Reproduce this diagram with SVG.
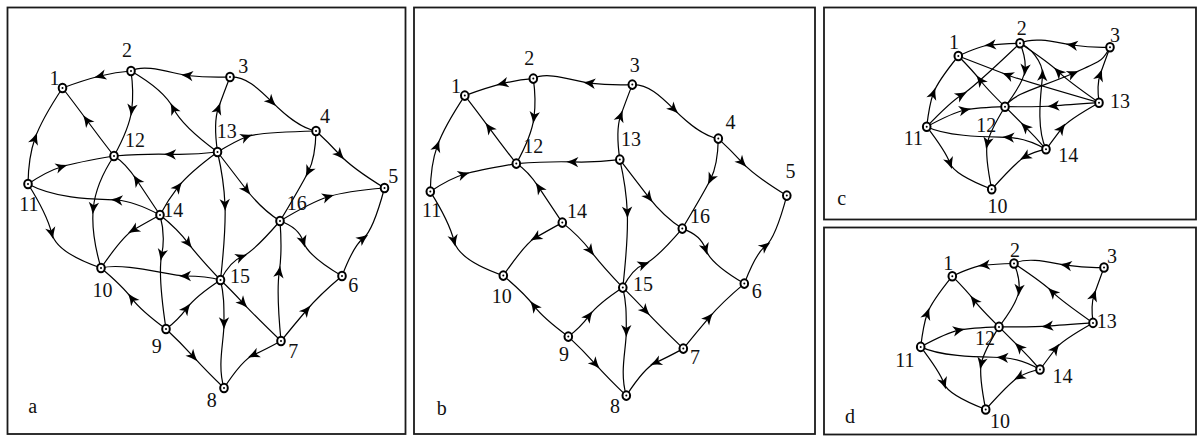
<svg xmlns="http://www.w3.org/2000/svg" width="1198" height="437" viewBox="0 0 1198 437">
<style>
.frame{fill:none;stroke:#1a1a1a;stroke-width:1.8}
.e{fill:none;stroke:#000;stroke-width:1.2;marker-mid:url(#ah)}
.lbl{font-family:"Liberation Serif","Times New Roman",serif;font-size:20px;fill:#111;text-anchor:middle}
</style>
<defs>
<marker id="ah" viewBox="-8 -8 16 16" markerWidth="16" markerHeight="16" refX="0" refY="0" orient="auto" markerUnits="userSpaceOnUse"><path d="M6,0 Q0,-1.8 -6,-5.2 L-3,0 L-6,5.2 Q0,1.8 6,0 Z" fill="#000"/></marker>
<g id="nd"><ellipse rx="3.8" ry="4.3" fill="#fff" stroke="#000" stroke-width="2"/><circle r="1" fill="#000"/></g>
</defs>
<rect width="1198" height="437" fill="#fff"/>
<g id="frames">
<rect class="frame" x="7.5" y="7.5" width="398" height="426.5"/>
<rect class="frame" x="414" y="7.5" width="401" height="426.5"/>
<rect class="frame" x="824" y="7.5" width="372" height="212"/>
<rect class="frame" x="824" y="227.5" width="372" height="207"/>
</g>
<g id="a-edges">
<path class="e" d="M131,71 Q116,72 100,76 T62.5,88"/>
<path class="e" d="M230,77 C215,77.5 200,77 187,75.5 S145,63 131,71"/>
<path class="e" d="M131,71 Q134,92 131.7,110 T114,156"/>
<path class="e" d="M217.5,152 Q182.3,126.3 173.3,108.3 T131,71"/>
<path class="e" d="M114,156 Q100,138 86.7,120 T62.5,88"/>
<path class="e" d="M28,184 Q28.4,157 35,138.3 T62.5,88"/>
<path class="e" d="M217.5,152 Q194,155 170,154.3 T114,156"/>
<path class="e" d="M28,184 Q47.3,171 61.7,166.7 T114,156"/>
<path class="e" d="M160,215 Q148,197 136.7,180 T114,156"/>
<path class="e" d="M160,215 C145,207 130,201 116.7,200 S60,201 28,184"/>
<path class="e" d="M114,156 Q95.8,183.3 93.3,208.3 T101,268"/>
<path class="e" d="M160,215 Q168,200 178.3,186.7 T217.5,152"/>
<path class="e" d="M217.5,152 Q224,180 225,205 T220.5,280"/>
<path class="e" d="M217.5,152 Q213.3,122.4 218.3,108.3 T230,77"/>
<path class="e" d="M230,77 C245,76 258,88 271.7,101.7 S300,128 316,131"/>
<path class="e" d="M217.5,152 Q235.5,141 246.7,136.7 T316,131"/>
<path class="e" d="M316,131 Q328,142 340,155 T384.5,188"/>
<path class="e" d="M316,131 Q315.5,157.5 308.3,171.7 T280,221"/>
<path class="e" d="M217.5,152 Q232,171 246.7,190 T280,221"/>
<path class="e" d="M280,221 Q311.2,202.1 328.3,196.7 T384.5,188"/>
<path class="e" d="M28,184 Q46.9,214 51.7,233.3 T101,268"/>
<path class="e" d="M160,215 Q143.6,224 133.3,230 T101,268"/>
<path class="e" d="M160,215 Q165.6,235.4 161.7,255 T166,329"/>
<path class="e" d="M160,215 Q177.5,229 188.3,243.3 T220.5,280"/>
<path class="e" d="M220.5,280 C210,277 200,276 185,276 S125,262 101,268"/>
<path class="e" d="M166,329 Q140.7,310.3 131.7,298.3 T101,268"/>
<path class="e" d="M166,329 Q177.7,320.3 186.7,308.3 T220.5,280"/>
<path class="e" d="M220.5,280 C224,295 224,305 224,323.3 S217,365 224,388"/>
<path class="e" d="M166,329 Q180,342 193.3,356.7 T224,388"/>
<path class="e" d="M220.5,280 Q230.5,261 241.7,256.7 T280,221"/>
<path class="e" d="M280,221 Q298.8,227.5 303.3,241.7 T342,276"/>
<path class="e" d="M342,276 Q353.7,245.5 363.3,238.3 T384.5,188"/>
<path class="e" d="M281,341 Q276.3,291.7 279.3,271.7 T280,221"/>
<path class="e" d="M220.5,280 Q231,290 243.3,303.3 T281,341"/>
<path class="e" d="M281,341 Q294,325 306.7,310 T342,276"/>
<path class="e" d="M281,341 Q264.1,350.2 253.3,355 T224,388"/>
</g>
<g id="b-edges" transform="translate(402.3,7.6)">
<path class="e" d="M131,71 Q116,72 100,76 T62.5,88"/>
<path class="e" d="M230,77 C215,77.5 200,77 187,75.5 S145,63 131,71"/>
<path class="e" d="M131,71 Q134,92 131.7,110 T114,156"/>
<path class="e" d="M114,156 Q100,138 86.7,120 T62.5,88"/>
<path class="e" d="M28,184 Q28.4,157 35,138.3 T62.5,88"/>
<path class="e" d="M217.5,152 Q194,155 170,154.3 T114,156"/>
<path class="e" d="M28,184 Q47.3,171 61.7,166.7 T114,156"/>
<path class="e" d="M160,215 Q148,197 136.7,180 T114,156"/>
<path class="e" d="M217.5,152 Q224,180 225,205 T220.5,280"/>
<path class="e" d="M217.5,152 Q213.3,122.4 218.3,108.3 T230,77"/>
<path class="e" d="M230,77 C245,76 258,88 271.7,101.7 S300,128 316,131"/>
<path class="e" d="M316,131 Q328,142 340,155 T384.5,188"/>
<path class="e" d="M316,131 Q315.5,157.5 308.3,171.7 T280,221"/>
<path class="e" d="M217.5,152 Q232,171 246.7,190 T280,221"/>
<path class="e" d="M28,184 Q46.9,214 51.7,233.3 T101,268"/>
<path class="e" d="M160,215 Q143.6,224 133.3,230 T101,268"/>
<path class="e" d="M160,215 Q177.5,229 188.3,243.3 T220.5,280"/>
<path class="e" d="M166,329 Q140.7,310.3 131.7,298.3 T101,268"/>
<path class="e" d="M166,329 Q177.7,320.3 186.7,308.3 T220.5,280"/>
<path class="e" d="M220.5,280 C224,295 224,305 224,323.3 S217,365 224,388"/>
<path class="e" d="M166,329 Q180,342 193.3,356.7 T224,388"/>
<path class="e" d="M220.5,280 Q230.5,261 241.7,256.7 T280,221"/>
<path class="e" d="M280,221 Q298.8,227.5 303.3,241.7 T342,276"/>
<path class="e" d="M342,276 Q353.7,245.5 363.3,238.3 T384.5,188"/>
<path class="e" d="M220.5,280 Q231,290 243.3,303.3 T281,341"/>
<path class="e" d="M281,341 Q294,325 306.7,310 T342,276"/>
<path class="e" d="M281,341 Q264.1,350.2 253.3,355 T224,388"/>
</g>
<g id="c-edges">
<path class="e" d="M1020,43.3 Q1000,44 990,45 T958.3,56"/>
<path class="e" d="M1110,47.3 C1095,48 1085,47 1071.7,45 S1035,36 1020,43.3"/>
<path class="e" d="M1099,102.7 Q1096.7,84.4 1100,75 T1110,47.3"/>
<path class="e" d="M926.7,126.7 Q929.3,104.6 933.3,93.3 T958.3,56"/>
<path class="e" d="M1005,106.7 Q986,88 980,80 T958.3,56"/>
<path class="e" d="M926.7,126.7 Q951.4,101 961.7,95 T1020,43.3"/>
<path class="e" d="M926.7,126.7 Q953.2,112.4 965,110 T1005,106.7"/>
<path class="e" d="M1099,102.7 Q1018.7,79.4 1007.5,75 T958.3,56"/>
<path class="e" d="M1020,43.3 Q1026.2,58 1025,70 T1005,106.7"/>
<path class="e" d="M1046,149.3 C1035,125 1042,88 1042.5,75 S1030,47 1020,43.3"/>
<path class="e" d="M1099,102.7 Q1066.7,80.1 1058.3,71.7 T1020,43.3"/>
<path class="e" d="M1005,106.7 C1015,92 1040,88 1073.3,73.3 S1102,60 1110,47.3"/>
<path class="e" d="M1099,102.7 Q1065,105 1053.3,106 T1005,106.7"/>
<path class="e" d="M1005,106.7 Q989.7,131.5 987.3,143.3 T991.7,189.3"/>
<path class="e" d="M1046,149.3 C1035,143 1020,138 1008.3,137.3 S950,138 926.7,126.7"/>
<path class="e" d="M1046,149.3 Q1036,137.7 1025,126.7 T1005,106.7"/>
<path class="e" d="M1046,149.3 Q1055.7,136.3 1061.7,128.3 T1099,102.7"/>
<path class="e" d="M926.7,126.7 Q946,152 950,163.3 T991.7,189.3"/>
<path class="e" d="M1046,149.3 Q1033.6,151.7 1025,156.7 T991.7,189.3"/>
</g>
<g id="d-edges" transform="translate(-6,220.2)">
<path class="e" d="M1020,43.3 Q1000,44 990,45 T958.3,56"/>
<path class="e" d="M1110,47.3 C1095,48 1085,47 1071.7,45 S1035,36 1020,43.3"/>
<path class="e" d="M1099,102.7 Q1096.7,84.4 1100,75 T1110,47.3"/>
<path class="e" d="M926.7,126.7 Q929.3,104.6 933.3,93.3 T958.3,56"/>
<path class="e" d="M1005,106.7 Q986,88 980,80 T958.3,56"/>
<path class="e" d="M926.7,126.7 Q953.2,112.4 965,110 T1005,106.7"/>
<path class="e" d="M1020,43.3 Q1026.2,58 1025,70 T1005,106.7"/>
<path class="e" d="M1099,102.7 Q1066.7,80.1 1058.3,71.7 T1020,43.3"/>
<path class="e" d="M1099,102.7 Q1065,105 1053.3,106 T1005,106.7"/>
<path class="e" d="M1005,106.7 Q989.7,131.5 987.3,143.3 T991.7,189.3"/>
<path class="e" d="M1046,149.3 C1035,143 1020,138 1008.3,137.3 S950,138 926.7,126.7"/>
<path class="e" d="M1046,149.3 Q1036,137.7 1025,126.7 T1005,106.7"/>
<path class="e" d="M1046,149.3 Q1055.7,136.3 1061.7,128.3 T1099,102.7"/>
<path class="e" d="M926.7,126.7 Q946,152 950,163.3 T991.7,189.3"/>
<path class="e" d="M1046,149.3 Q1033.6,151.7 1025,156.7 T991.7,189.3"/>
</g>
<g id="a-nodes">
<g id="a-n1"><use href="#nd" x="62.5" y="88"/><text class="lbl" x="54.5" y="85">1</text></g>
<g id="a-n2"><use href="#nd" x="131" y="71"/><text class="lbl" x="127" y="57">2</text></g>
<g id="a-n3"><use href="#nd" x="230" y="77"/><text class="lbl" x="243.3" y="73">3</text></g>
<g id="a-n4"><use href="#nd" x="316" y="131"/><text class="lbl" x="325" y="123">4</text></g>
<g id="a-n5"><use href="#nd" x="384.5" y="188"/><text class="lbl" x="393.3" y="183">5</text></g>
<g id="a-n6"><use href="#nd" x="342" y="276"/><text class="lbl" x="353.3" y="291.5">6</text></g>
<g id="a-n7"><use href="#nd" x="281" y="341"/><text class="lbl" x="293.3" y="358">7</text></g>
<g id="a-n8"><use href="#nd" x="224" y="388"/><text class="lbl" x="211.7" y="406.5">8</text></g>
<g id="a-n9"><use href="#nd" x="166" y="329"/><text class="lbl" x="156.7" y="353">9</text></g>
<g id="a-n10"><use href="#nd" x="101" y="268"/><text class="lbl" x="102.5" y="296.5">10</text></g>
<g id="a-n11"><use href="#nd" x="28" y="184"/><text class="lbl" x="28.8" y="211">11</text></g>
<g id="a-n12"><use href="#nd" x="114" y="156"/><text class="lbl" x="135" y="146.5">12</text></g>
<g id="a-n13"><use href="#nd" x="217.5" y="152"/><text class="lbl" x="226.7" y="137.5">13</text></g>
<g id="a-n14"><use href="#nd" x="160" y="215"/><text class="lbl" x="173.3" y="216.5">14</text></g>
<g id="a-n15"><use href="#nd" x="220.5" y="280"/><text class="lbl" x="240" y="283">15</text></g>
<g id="a-n16"><use href="#nd" x="280" y="221"/><text class="lbl" x="296.7" y="210">16</text></g>
<text class="lbl" x="32.8" y="413">a</text>
</g>
<g id="b-nodes">
<g id="b-n1"><use href="#nd" x="464.8" y="95.6"/><text class="lbl" x="456" y="93.3">1</text></g>
<g id="b-n2"><use href="#nd" x="533.3" y="78.6"/><text class="lbl" x="529.3" y="65">2</text></g>
<g id="b-n3"><use href="#nd" x="632.3" y="84.6"/><text class="lbl" x="634.7" y="71.7">3</text></g>
<g id="b-n4"><use href="#nd" x="718.3" y="138.6"/><text class="lbl" x="730.5" y="129">4</text></g>
<g id="b-n5"><use href="#nd" x="786.8" y="195.6"/><text class="lbl" x="790.5" y="177.7">5</text></g>
<g id="b-n6"><use href="#nd" x="744.3" y="283.6"/><text class="lbl" x="756.7" y="298.3">6</text></g>
<g id="b-n7"><use href="#nd" x="683.3" y="348.6"/><text class="lbl" x="695" y="364">7</text></g>
<g id="b-n8"><use href="#nd" x="626.3" y="395.6"/><text class="lbl" x="615" y="413.3">8</text></g>
<g id="b-n9"><use href="#nd" x="568.3" y="336.6"/><text class="lbl" x="564" y="360.7">9</text></g>
<g id="b-n10"><use href="#nd" x="503.3" y="275.6"/><text class="lbl" x="501.7" y="303.3">10</text></g>
<g id="b-n11"><use href="#nd" x="430.3" y="191.6"/><text class="lbl" x="431.7" y="216.7">11</text></g>
<g id="b-n12"><use href="#nd" x="516.3" y="163.6"/><text class="lbl" x="533.3" y="153.3">12</text></g>
<g id="b-n13"><use href="#nd" x="619.8" y="159.6"/><text class="lbl" x="631" y="146">13</text></g>
<g id="b-n14"><use href="#nd" x="562.3" y="222.6"/><text class="lbl" x="577" y="218.3">14</text></g>
<g id="b-n15"><use href="#nd" x="622.8" y="287.6"/><text class="lbl" x="643" y="290.7">15</text></g>
<g id="b-n16"><use href="#nd" x="682.3" y="228.6"/><text class="lbl" x="700" y="223.3">16</text></g>
<text class="lbl" x="441.7" y="415">b</text>
</g>
<g id="c-nodes">
<g id="c-n1"><use href="#nd" x="958.3" y="56"/><text class="lbl" x="954" y="49.3">1</text></g>
<g id="c-n2"><use href="#nd" x="1020" y="43.3"/><text class="lbl" x="1021.7" y="35">2</text></g>
<g id="c-n3"><use href="#nd" x="1110" y="47.3"/><text class="lbl" x="1115" y="41.7">3</text></g>
<g id="c-n13"><use href="#nd" x="1099" y="102.7"/><text class="lbl" x="1120" y="108.3">13</text></g>
<g id="c-n12"><use href="#nd" x="1005" y="106.7"/><text class="lbl" x="986.3" y="131.7">12</text></g>
<g id="c-n11"><use href="#nd" x="926.7" y="126.7"/><text class="lbl" x="913.3" y="145">11</text></g>
<g id="c-n14"><use href="#nd" x="1046" y="149.3"/><text class="lbl" x="1068.3" y="161.7">14</text></g>
<g id="c-n10"><use href="#nd" x="991.7" y="189.3"/><text class="lbl" x="997.5" y="213.3">10</text></g>
<text class="lbl" x="841.7" y="205">c</text>
</g>
<g id="d-nodes">
<g id="d-n1"><use href="#nd" x="952.3" y="276.2"/><text class="lbl" x="948.3" y="270">1</text></g>
<g id="d-n2"><use href="#nd" x="1014" y="263.5"/><text class="lbl" x="1015" y="257.3">2</text></g>
<g id="d-n3"><use href="#nd" x="1104" y="267.5"/><text class="lbl" x="1112" y="263.3">3</text></g>
<g id="d-n13"><use href="#nd" x="1093" y="322.9"/><text class="lbl" x="1106.7" y="328.3">13</text></g>
<g id="d-n12"><use href="#nd" x="999" y="326.9"/><text class="lbl" x="985" y="345">12</text></g>
<g id="d-n11"><use href="#nd" x="920.7" y="346.9"/><text class="lbl" x="905" y="366.7">11</text></g>
<g id="d-n14"><use href="#nd" x="1040" y="369.5"/><text class="lbl" x="1062.5" y="383.3">14</text></g>
<g id="d-n10"><use href="#nd" x="985.7" y="409.5"/><text class="lbl" x="1000" y="428.3">10</text></g>
<text class="lbl" x="850" y="423.3">d</text>
</g>
</svg>
